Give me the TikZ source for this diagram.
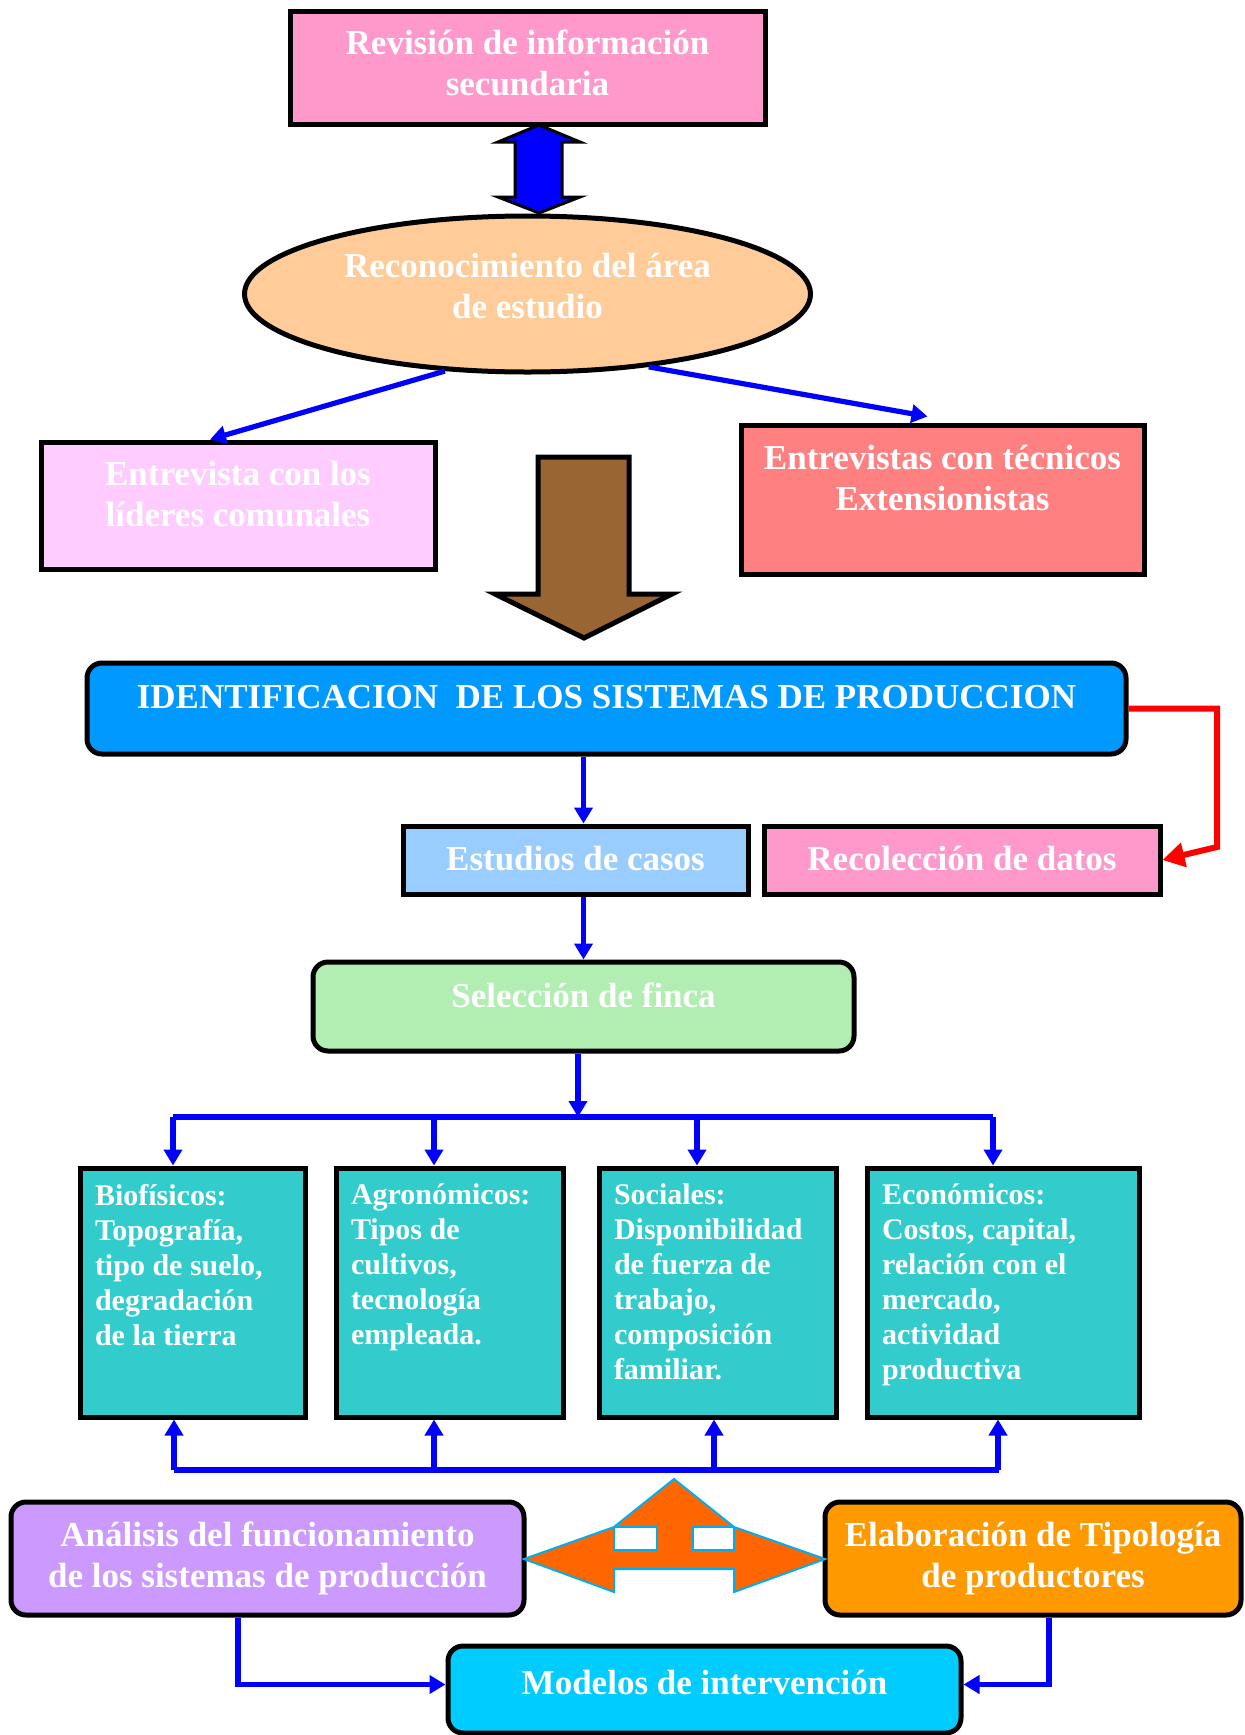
\documentclass[tikz,border=0pt]{standalone}
\usepackage{fontspec}
\setmainfont{Liberation Serif}
\usetikzlibrary{shapes.geometric,arrows.meta}

\newlength{\du}
\setlength{\du}{0.5pt}

\definecolor{revcolor}{rgb}{1.000000, 0.600000, 0.800000}
\definecolor{reconcolor}{rgb}{1.000000, 0.800000, 0.600000}
\definecolor{lidercolor}{rgb}{1.000000, 0.800000, 1.000000}
\definecolor{tecncolor}{rgb}{1.000000, 0.500000, 0.500000}
\definecolor{identcolor}{rgb}{0.000000, 0.600000, 1.000000}
\definecolor{estudcolor}{rgb}{0.600000, 0.800000, 1.000000}
\definecolor{selecolor}{rgb}{0.700000, 0.933000, 0.700000}
\definecolor{factorcolor}{rgb}{0.200000, 0.800000, 0.800000}
\definecolor{analcolor}{rgb}{0.800000, 0.600000, 1.000000}
\definecolor{elabcolor}{rgb}{1.000000, 0.600000, 0.000000}
\definecolor{modelcolor}{rgb}{0.000000, 0.800000, 1.000000}
\definecolor{browncolor}{rgb}{0.600000, 0.400000, 0.200000}
\definecolor{orangecolor}{rgb}{1.000000, 0.400000, 0.000000}

\newcommand{\boxfont}{\fontsize{17.5pt}{20.5pt}\selectfont\bfseries}
\newcommand{\cellfont}{\fontsize{15pt}{17.5pt}\selectfont\bfseries}
% extra depth under the last line, lifts the text in its box
\newcommand{\lowstrut}[1]{\rule[-#1]{0pt}{#1}}

\tikzset{
  box/.style={draw=black, line width=5\du, text=white, font=\boxfont, align=center, inner sep=0pt},
  roundbox/.style={box, rounded corners=15\du},
  factor/.style={box, font=\cellfont, align=left, fill=factorcolor, inner xsep=15\du, inner ysep=0pt},
  blueline/.style={draw=blue, line width=5.2\du},
  bluearrow/.style={blueline, -{Triangle[length=8pt,width=9pt]}},
  redarrow/.style={draw=red, line width=6\du, -{Triangle[length=11pt,width=12pt]}},
}

\begin{document}
\begin{tikzpicture}
\pgftransformxscale{1.000000}
\pgftransformyscale{-1.000000}
\useasboundingbox (0\du,0\du) rectangle (1244\du,1735\du);

% upper part
\node[box, fill=revcolor, minimum width=475\du, minimum height=113\du] (rev) at (527.5\du,67.5\du) {Revisión de información\\secundaria\lowstrut{10\du}};
\node[box, ellipse, fill=reconcolor, minimum width=566\du, minimum height=156\du] (recon) at (527.5\du,294\du) {Reconocimiento del área\\de estudio\lowstrut{16\du}};
\node[box, fill=lidercolor, minimum width=394\du, minimum height=127\du] (lider) at (238\du,505.5\du) {Entrevista con los\\líderes comunales\lowstrut{23\du}};
\node[box, fill=tecncolor, minimum width=403\du, minimum height=149\du] (tecn) at (942.5\du,499.5\du) {Entrevistas con técnicos\\Extensionistas\lowstrut{44\du}};

\filldraw[fill=blue, draw=black, line width=3\du] (539\du,125\du) -- (580\du,142\du) -- (562\du,142\du) -- (562\du,197\du) -- (580\du,197\du) -- (539\du,213\du) -- (498\du,197\du) -- (515\du,197\du) -- (515\du,142\du) -- (498\du,142\du) -- cycle;
\draw[bluearrow] (recon.-137) -- ([xshift=-28\du]lider.north);
\draw[bluearrow] (recon.-31) -- ([xshift=-15\du,yshift=-6\du]tecn.north);
\filldraw[fill=browncolor, draw=black, line width=5\du] (538\du,457\du) -- (629\du,457\du) -- (629\du,594\du) -- (672\du,594\du) -- (584\du,638\du) -- (495\du,594\du) -- (538\du,594\du) -- cycle;

% middle part
\node[roundbox, fill=identcolor, minimum width=1039\du, minimum height=91\du] (ident) at (606.5\du,708.5\du) {IDENTIFICACION~ DE LOS SISTEMAS DE PRODUCCION\lowstrut{23\du}};
\node[box, fill=estudcolor, minimum width=345\du, minimum height=68\du] (estud) at (575.5\du,860\du) {Estudios de casos\lowstrut{4\du}};
\node[box, fill=revcolor, minimum width=396\du, minimum height=68\du] (recol) at (962\du,860\du) {Recolección de datos\lowstrut{4\du}};
\node[roundbox, fill=selecolor, minimum width=541\du, minimum height=89\du] (selec) at (583.5\du,1006.5\du) {Selección de finca\lowstrut{22\du}};

\draw[bluearrow] (ident.south -| selec.north) -- (estud.north -| selec.north);
\draw[bluearrow] (estud.south -| selec.north) -- (selec.north);
\coordinate (rbend) at (1217\du,847\du);
\draw[redarrow] (ident.east) -| (rbend) -- (recol.east);

% factors
\node[factor, minimum width=225\du] (bio) at (192.5\du,1292.5\du) {\parbox[c][249\du][t]{195\du}{\raggedright\vspace*{16\du}Biofísicos:\\Topografía,\\tipo de suelo,\\degradación\\de la tierra}};
\node[factor, minimum width=227\du] (agro) at (449.5\du,1292.5\du) {\parbox[c][249\du][t]{197\du}{\raggedright\vspace*{16\du}Agronómicos:\\Tipos de\\cultivos,\\tecnología\\empleada.}};
\node[factor, minimum width=237\du] (soc) at (717.5\du,1292.5\du) {\parbox[c][249\du][t]{207\du}{\raggedright\vspace*{16\du}Sociales:\\Disponibilidad\\de fuerza de\\trabajo,\\composición\\familiar.}};
\node[factor, minimum width=272\du] (econ) at (1003\du,1292.5\du) {\parbox[c][249\du][t]{242\du}{\raggedright\vspace*{16\du}Económicos:\\Costos, capital,\\relación con el\\mercado,\\actividad\\productiva}};

\coordinate (topbus) at (578\du,1117\du);
\draw[bluearrow] (selec.south -| topbus) -- (topbus);
\draw[blueline] (173\du,1117\du) -- (993\du,1117\du);
\foreach \b/\x in {bio/173,agro/434,soc/697,econ/993}
  \draw[bluearrow] (\x\du,1117\du) -- (\b.north -| \x\du,0);

\coordinate (lowbus) at (674\du,1470\du);
\draw[blueline] (174\du,1470\du) -- (999\du,1470\du);
\foreach \b/\x in {bio/174,agro/434,soc/714,econ/998}
  \draw[bluearrow] (\x\du,1470\du) -- (\b.south -| \x\du,0);

% lower part
\node[roundbox, fill=analcolor, minimum width=513\du, minimum height=113\du] (anal) at (267.5\du,1558.5\du) {Análisis del funcionamiento\\de los sistemas de producción};
\node[roundbox, fill=elabcolor, minimum width=416\du, minimum height=113\du] (elab) at (1033\du,1558.5\du) {Elaboración de Tipología\\de productores};
\node[roundbox, fill=modelcolor, minimum width=513\du, minimum height=87\du] (model) at (704.5\du,1689.5\du) {Modelos de intervención\lowstrut{15\du}};

\filldraw[fill=orangecolor, draw=cyan, line width=2\du] (674\du,1479\du) -- (734\du,1527\du) -- (825\du,1559\du) -- (734\du,1592\du) -- (734\du,1569\du) -- (614\du,1569\du) -- (614\du,1592\du) -- (524\du,1559\du) -- (614\du,1527\du) -- cycle;
\filldraw[fill=white, draw=cyan, line width=2\du] (614\du,1527\du) rectangle (657\du,1550\du);
\filldraw[fill=white, draw=cyan, line width=2\du] (693\du,1527\du) rectangle (734\du,1550\du);

\draw[bluearrow] (anal.south -| 238\du,0) |- ([yshift=-5\du]model.west);
\draw[bluearrow] (elab.south -| 1049\du,0) |- ([yshift=-5\du]model.east);
\end{tikzpicture}
\end{document}
